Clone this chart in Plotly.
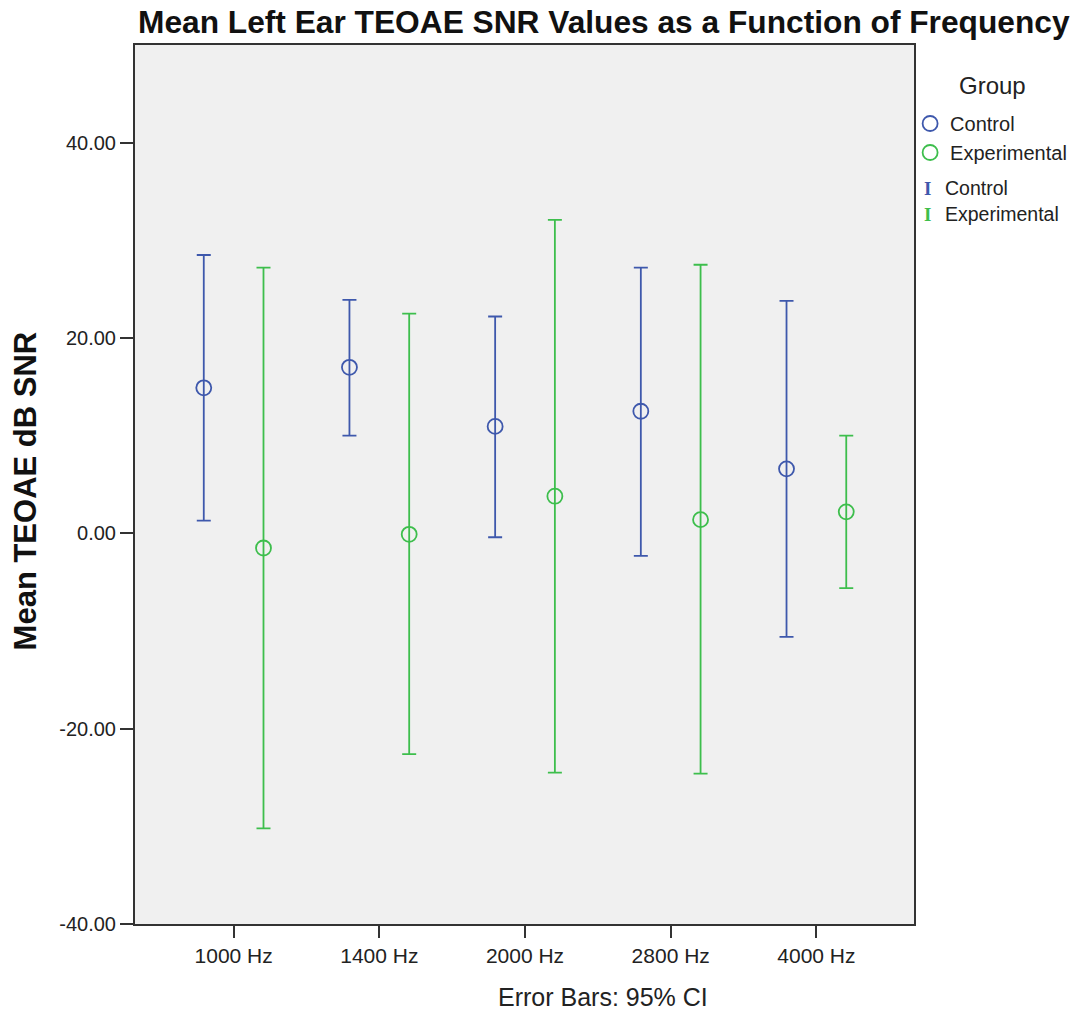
import plotly.graph_objects as go

# Frequency bands and group summary statistics (mean with 95% CI bounds)
freqs = ["1000 Hz", "1400 Hz", "2000 Hz", "2800 Hz", "4000 Hz"]

control_mean = [14.9, 17.0, 10.95, 12.5, 6.6]
control_lo = [1.3, 10.0, -0.4, -2.3, -10.6]
control_hi = [28.5, 23.9, 22.2, 27.2, 23.8]

exp_mean = [-1.5, -0.1, 3.8, 1.4, 2.2]
exp_lo = [-30.2, -22.6, -24.5, -24.6, -5.6]
exp_hi = [27.2, 22.5, 32.1, 27.5, 10.0]

y_ticks = [-40, -20, 0, 20, 40]

BLUE = "#3E58AC"
GREEN = "#3DBE4C"
TEXT = "#222222"
FONT = "Liberation Sans, Arial, sans-serif"

# side-by-side placement of the two groups within each frequency slot
dodge = 0.205
idx = list(range(len(freqs)))


def group_trace(name, means, lo, hi, color, shift):
    return go.Scatter(
        x=[i + shift for i in idx],
        y=means,
        name=name,
        mode="markers",
        marker=dict(symbol="circle-open", size=15, color=color,
                    line=dict(width=1.8, color=color)),
        error_y=dict(
            type="data",
            symmetric=False,
            array=[h - m for h, m in zip(hi, means)],
            arrayminus=[m - l for m, l in zip(means, lo)],
            color=color,
            thickness=1.8,
            width=7,
        ),
        hovertext=freqs,
    )


fig = go.Figure()
fig.add_trace(group_trace("Control", control_mean, control_lo, control_hi, BLUE, -dodge))
fig.add_trace(group_trace("Experimental", exp_mean, exp_lo, exp_hi, GREEN, dodge))


def px_to_paper_y(ypx):
    return (924 - ypx) / 879


def px_to_paper_x(xpx):
    return (xpx - 135) / 782


fig.update_layout(
    width=1084,
    height=1013,
    margin=dict(l=135, r=167, t=45, b=89),
    paper_bgcolor="white",
    plot_bgcolor="#F0F0F0",
    font=dict(family=FONT, color=TEXT, size=20),
    title=dict(
        text="<b>Mean Left Ear TEOAE SNR Values as a Function of Frequency</b>",
        x=0.557, xref="container", xanchor="center",
        y=0.978, yref="container", yanchor="middle",
        font=dict(size=31.7, color="#111111"),
    ),
    showlegend=True,
    legend=dict(
        x=0.995, xanchor="left", y=px_to_paper_y(104), yanchor="top",
        bgcolor="rgba(0,0,0,0)",
        font=dict(size=20, color=TEXT),
        itemsizing="trace",
        tracegroupgap=0,
    ),
)

fig.update_xaxes(
    range=[-0.677, 4.67],
    tickvals=idx,
    ticktext=freqs,
    ticks="outside", ticklen=12, tickwidth=2, tickcolor="#333333",
    showline=True, linecolor="#333333", linewidth=2, mirror=True,
    showgrid=False, zeroline=False,
    tickfont=dict(size=21, color=TEXT),
)
fig.update_yaxes(
    range=[-40, 50],
    tickvals=y_ticks,
    ticktext=[f"{v:.2f}" for v in y_ticks],
    ticks="outside", ticklen=13, tickwidth=2, tickcolor="#333333",
    showline=True, linecolor="#333333", linewidth=2, mirror=True,
    showgrid=False, zeroline=False,
    tickfont=dict(size=20, color=TEXT),
)

# axis titles
fig.add_annotation(
    text="<b>Mean TEOAE dB SNR</b>", textangle=-90,
    xref="paper", yref="paper", x=px_to_paper_x(25), y=px_to_paper_y(491),
    xanchor="center", yanchor="middle", showarrow=False,
    font=dict(size=31, color="#111111"),
)
fig.add_annotation(
    text="Error Bars: 95% CI",
    xref="paper", yref="paper", x=px_to_paper_x(605), y=px_to_paper_y(997),
    xanchor="center", yanchor="middle", showarrow=False,
    font=dict(size=25, color=TEXT),
)

# legend heading
fig.add_annotation(
    text="Group", xref="paper", yref="paper",
    x=px_to_paper_x(996), y=px_to_paper_y(85),
    xanchor="center", yanchor="middle", showarrow=False,
    font=dict(size=24, color=TEXT),
)

# error-bar key beneath the marker legend
for label, color, ypx in [("Control", BLUE, 188), ("Experimental", GREEN, 214)]:
    fig.add_annotation(
        text="<b>I</b>", xref="paper", yref="paper", x=px_to_paper_x(931), y=px_to_paper_y(ypx),
        xanchor="center", yanchor="middle", showarrow=False,
        font=dict(size=19, color=color, family="Liberation Serif, DejaVu Serif, serif"),
    )
    fig.add_annotation(
        text=label, xref="paper", yref="paper", x=px_to_paper_x(946), y=px_to_paper_y(ypx),
        xanchor="left", yanchor="middle", showarrow=False,
        font=dict(size=19.5, color=TEXT),
    )

fig.write_html("out.html")
